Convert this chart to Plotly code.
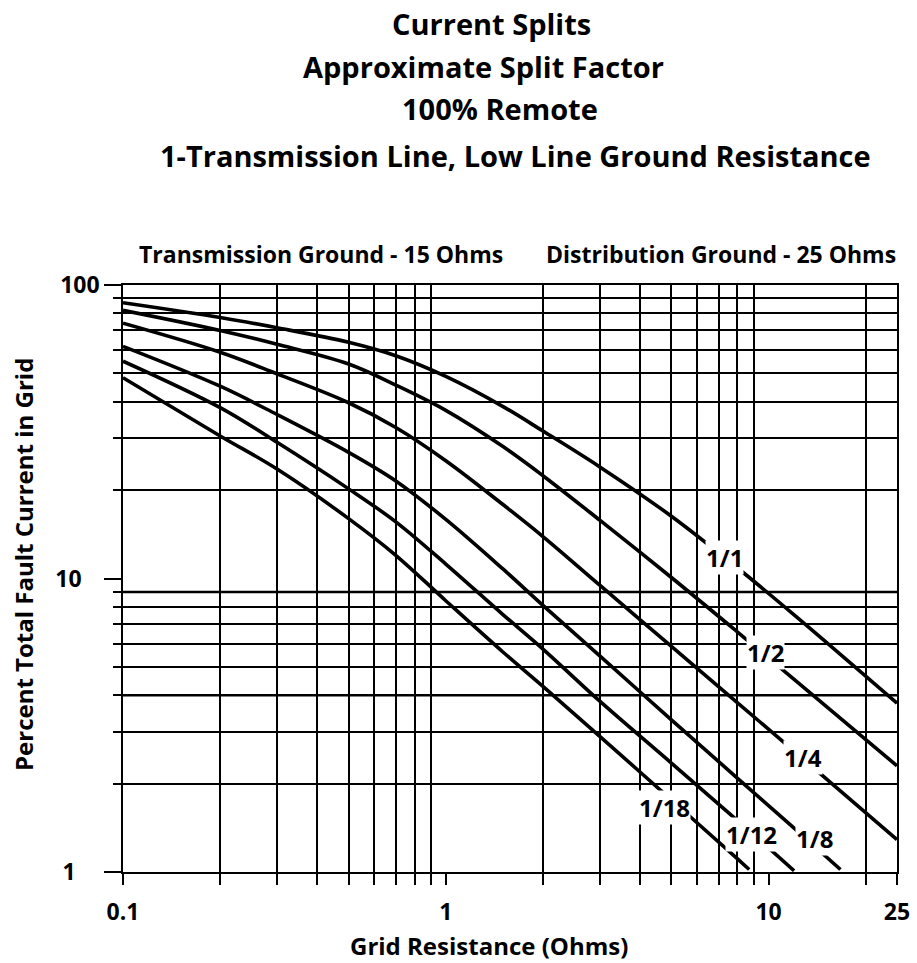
import math
import plotly.graph_objects as go

# ---------------- data ----------------
series_names = ["1/1", "1/2", "1/4", "1/8", "1/12", "1/18"]

r_1_1 = [0.1, 0.2, 0.3, 0.5, 0.7, 1, 1.5, 2, 3, 5, 8, 12, 25]
p_1_1 = [87.0, 77.5, 71.5, 63.8, 57.4, 48.8, 38.6, 31.8, 24.0, 16.3, 10.88, 7.52, 3.76]

r_1_2 = [0.1, 0.2, 0.3, 0.5, 0.7, 1, 1.5, 2, 3, 5, 8, 12, 25]
p_1_2 = [82.0, 70.0, 62.8, 53.8, 45.6, 37.4, 28.2, 22.4, 15.8, 10.08, 6.58, 4.53, 2.30]

r_1_4 = [0.1, 0.2, 0.3, 0.5, 0.7, 1, 1.5, 2, 3, 5, 8, 12, 25]
p_1_4 = [74.1, 59.0, 49.8, 39.7, 32.7, 25.2, 17.9, 13.9, 9.49, 5.87, 3.78, 2.58, 1.29]

r_1_8 = [0.1, 0.2, 0.3, 0.5, 0.7, 1, 1.5, 2, 3, 5, 8, 12, 16.7]
p_1_8 = [61.8, 45.2, 36.2, 26.9, 21.5, 15.9, 10.8, 8.1, 5.45, 3.30, 2.09, 1.41, 1.02]

r_1_12 = [0.1, 0.2, 0.3, 0.5, 0.7, 1, 1.5, 2, 3, 5, 8, 12]
p_1_12 = [55.0, 38.2, 29.1, 20.2, 15.6, 11.2, 7.55, 5.75, 3.82, 2.35, 1.50, 1.01]

r_1_18 = [0.1, 0.2, 0.3, 0.5, 0.7, 1, 1.5, 2, 3, 5, 8, 8.71]
p_1_18 = [48.3, 30.6, 23.6, 16.0, 12.0, 8.4, 5.63, 4.29, 2.90, 1.76, 1.11, 1.02]

series_r = [r_1_1, r_1_2, r_1_4, r_1_8, r_1_12, r_1_18]
series_p = [p_1_1, p_1_2, p_1_4, p_1_8, p_1_12, p_1_18]

# curve label positions (grid resistance, percent)
label_r = [7.32, 9.8, 12.8, 13.9, 8.83, 4.77]
label_p = [11.8, 5.59, 2.46, 1.30, 1.34, 1.66]

# heavy reference lines
ref_levels = [9, 4]

# ticks
x_tick_vals = [0.1, 1, 10, 25]
x_tick_text = ["0.1", "1", "10", "25"]
x_minor_vals = [0.2, 0.3, 0.4, 0.5, 0.6, 0.7, 0.8, 0.9, 2, 3, 4, 5, 6, 7, 8, 9, 20]
y_tick_vals = [1, 10, 100]
y_tick_text = ["1", "10", "100"]
y_tick_pad = [4, 3, 0]
y_minor_vals = [2, 3, 4, 5, 6, 7, 8, 9, 20, 30, 40, 50, 60, 70, 80, 90]

title_lines = [
    "Current Splits",
    "Approximate Split Factor",
    "100% Remote",
    "1-Transmission Line, Low Line Ground Resistance",
]
sub_left = "Transmission Ground - 15 Ohms"
sub_right = "Distribution Ground - 25 Ohms"
x_title = "Grid Resistance (Ohms)"
y_title = "Percent Total Fault Current in Grid"

# ---------------- figure ----------------
FONT = "Open Sans"
W, H = 917, 963
L, R, T, B = 123, 20, 285, 91
PW, PH = W - L - R, H - T - B


def px_x(px):
    return (px - L) / PW


def px_y(py):
    return (H - B - py) / PH


fig = go.Figure()

for lv in ref_levels:
    fig.add_trace(go.Scatter(
        x=[x_tick_vals[0], x_tick_vals[-1]], y=[lv, lv], mode="lines",
        line=dict(color="black", width=2.6), hoverinfo="skip", showlegend=False,
    ))

for name, rr, pp in zip(series_names, series_r, series_p):
    fig.add_trace(go.Scatter(
        x=rr, y=pp, mode="lines", name=name,
        line=dict(color="black", width=3.6, shape="spline", smoothing=1.0),
        showlegend=False,
    ))

annotations = []
title_px = [(491, 23), (483, 67), (500, 108), (515, 155)]
for txt, (cx, cy) in zip(title_lines, title_px):
    annotations.append(dict(
        text=txt, xref="paper", yref="paper", x=px_x(cx), y=px_y(cy),
        xanchor="center", yanchor="middle", showarrow=False,
        font=dict(family=FONT, size=29, color="black", weight="bold"),
    ))

annotations.append(dict(
    text=sub_left, xref="paper", yref="paper", x=px_x(321), y=px_y(254),
    xanchor="center", yanchor="middle", showarrow=False,
    font=dict(family=FONT, size=23, color="black", weight="bold"),
))
annotations.append(dict(
    text=sub_right, xref="paper", yref="paper", x=px_x(721), y=px_y(254),
    xanchor="center", yanchor="middle", showarrow=False,
    font=dict(family=FONT, size=23, color="black", weight="bold"),
))
annotations.append(dict(
    text=x_title, xref="paper", yref="paper", x=px_x(489), y=px_y(945),
    xanchor="center", yanchor="middle", showarrow=False,
    font=dict(family=FONT, size=24, color="black", weight="bold"),
))
annotations.append(dict(
    text=y_title, xref="paper", yref="paper", x=px_x(23), y=px_y(565),
    xanchor="center", yanchor="middle", showarrow=False, textangle=-90,
    font=dict(family=FONT, size=24, color="black", weight="bold"),
))

for name, lr, lp in zip(series_names, label_r, label_p):
    annotations.append(dict(
        text=name, x=math.log10(lr), y=math.log10(lp), xref="x", yref="y",
        xanchor="center", yanchor="middle", showarrow=False,
        bgcolor="white", borderpad=0,
        font=dict(family=FONT, size=24, color="black", weight="bold"),
    ))

grid_w = 1.6
fig.update_xaxes(
    type="log", range=[math.log10(x_tick_vals[0]), math.log10(x_tick_vals[-1])],
    tickmode="array", tickvals=x_tick_vals, ticktext=x_tick_text,
    ticks="outside", ticklen=11, tickwidth=grid_w, tickcolor="black",
    ticklabelstandoff=8, automargin=False,
    showgrid=False, zeroline=False,
    showline=True, linecolor="black", linewidth=grid_w, mirror=True,
    minor=dict(tickmode="array", tickvals=x_minor_vals, showgrid=True,
               gridcolor="black", gridwidth=grid_w, ticks="outside",
               ticklen=11, tickwidth=grid_w, tickcolor="black"),
    tickfont=dict(family=FONT, size=23, color="black", weight="bold"),
)
fig.update_yaxes(
    type="log", range=[math.log10(y_tick_vals[0]), math.log10(y_tick_vals[-1])],
    tickmode="array", tickvals=y_tick_vals,
    ticktext=[t + "\u00a0" * n for t, n in zip(y_tick_text, y_tick_pad)],
    ticks="outside", ticklen=17, tickwidth=grid_w, tickcolor="black",
    automargin=False,
    showgrid=False, zeroline=False,
    showline=True, linecolor="black", linewidth=grid_w, mirror=True,
    minor=dict(tickmode="array", tickvals=y_minor_vals, showgrid=True,
               gridcolor="black", gridwidth=grid_w, ticks="outside",
               ticklen=8, tickwidth=grid_w, tickcolor="black"),
    tickfont=dict(family=FONT, size=23, color="black", weight="bold"),
)

fig.update_layout(
    width=W, height=H, autosize=False,
    margin=dict(l=L, r=R, t=T, b=B),
    paper_bgcolor="white", plot_bgcolor="white",
    showlegend=False, annotations=annotations,
    font=dict(family=FONT, color="black"),
)

fig.write_html(
    "out.html",
    config={"responsive": False, "displayModeBar": False},
    post_script="document.body.style.margin='0px';document.body.style.overflow='hidden';",
)
